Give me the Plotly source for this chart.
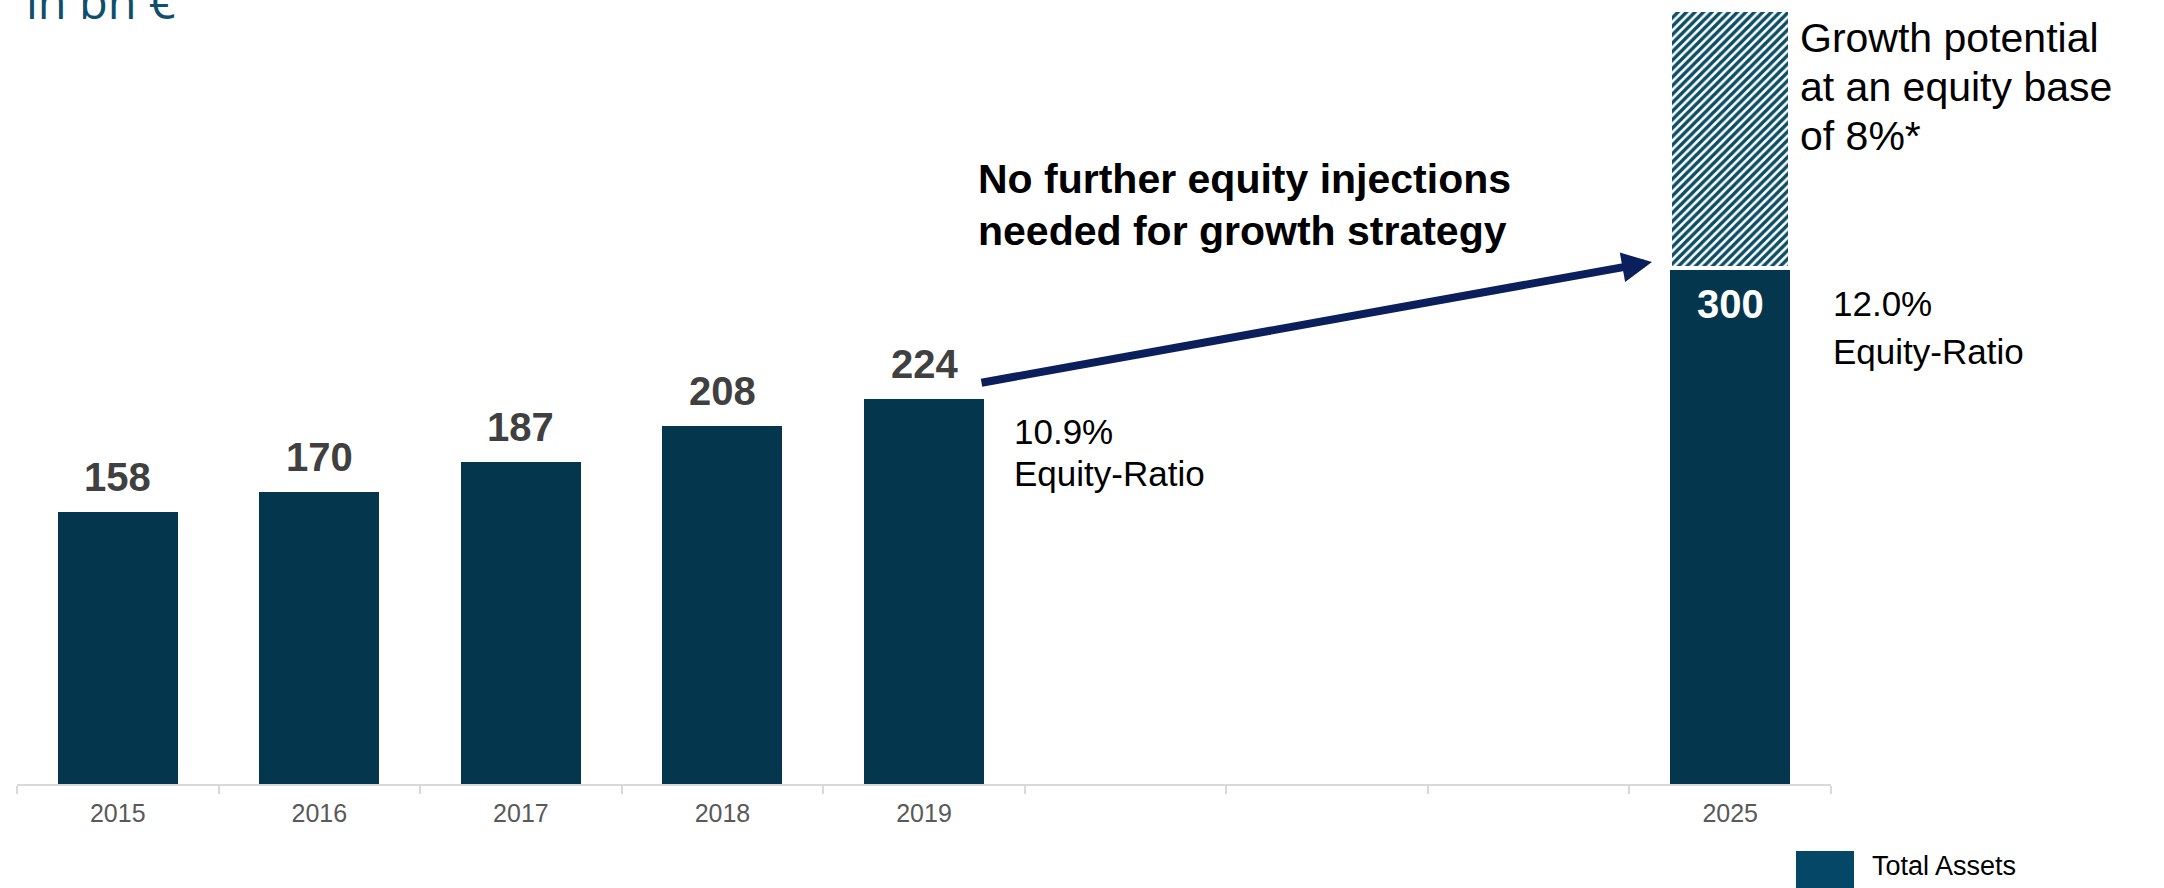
import plotly.graph_objects as go

# ---------------- data ----------------
categories = ["2015", "2016", "2017", "2018", "2019", "gap1", "gap2", "gap3", "2025"]
tick_labels = ["2015", "2016", "2017", "2018", "2019", "", "", "", "2025"]
total_assets = [158, 170, 187, 208, 224, None, None, None, 300]
growth_potential = [None, None, None, None, None, None, None, None, 150]  # 300 -> 450 at 8% equity base
value_labels = ["158", "170", "187", "208", "224", "", "", "", "300"]
equity_ratio_2019 = "10.9%"
equity_ratio_2025 = "12.0%"

# ---------------- styling ----------------
W, H = 2164, 888
ML, MR, MT, MB = 17, 333, 10, 104
PW, PH = W - ML - MR, H - MT - MB
FONT = "Arial, 'Liberation Sans', sans-serif"
BAR = "#04364D"
LEG = "#044767"
HATCH = "#0C4D66"


def px(x):
    return (x - ML) / PW


def py(y):
    return (H - MB - y) / PH


fig = go.Figure()
fig.add_trace(go.Bar(
    x=categories, y=total_assets, name="Total Assets",
    marker=dict(color=BAR, line=dict(width=0)), showlegend=False,
    hoverinfo="x+y",
))
fig.add_trace(go.Bar(
    x=categories, y=growth_potential, name="Growth potential",
    marker=dict(color="white", line=dict(color="white", width=4),
                pattern=dict(shape="/", fgcolor=HATCH, bgcolor="white",
                             size=6, solidity=0.58, fillmode="replace")),
    showlegend=False, hoverinfo="x+y",
))

annotations = []
# value labels (category axis: annotation x uses the category index)
for i, (c, v, lab) in enumerate(zip(categories, total_assets, value_labels)):
    if v is None or not lab:
        continue
    if c == "2025":
        annotations.append(dict(x=i, y=v, xref="x", yref="y", text="<b>%s</b>" % lab,
                                showarrow=False, yanchor="middle", xanchor="center",
                                yshift=-36, font=dict(family=FONT, size=40, color="white")))
    else:
        annotations.append(dict(x=i, y=v, xref="x", yref="y", text="<b>%s</b>" % lab,
                                showarrow=False, yanchor="middle", xanchor="center",
                                yshift=35, font=dict(family=FONT, size=40, color="#404040")))


def txt(text, x, y, size, color="black", bold=False):
    t = "<b>%s</b>" % text if bold else text
    annotations.append(dict(x=px(x), y=py(y), xref="paper", yref="paper", text=t,
                            showarrow=False, xanchor="left", yanchor="middle",
                            font=dict(family=FONT, size=size, color=color)))


txt("No further equity injections", 976, 179, 41, bold=True)
txt("needed for growth strategy", 976, 231, 41, bold=True)
txt(equity_ratio_2019, 1012, 431, 35)
txt("Equity-Ratio", 1012, 473, 35)
txt(equity_ratio_2025, 1831, 303, 35)
txt("Equity-Ratio", 1831, 351, 35)
txt("Growth potential", 1798, 38, 41)
txt("at an equity base", 1798, 87, 41)
txt("of 8%*", 1798, 136, 41)
txt("Total Assets", 1870, 866, 27)
annotations.append(dict(x=px(24), y=py(1), xref="paper", yref="paper", text="in bn €",
                        showarrow=False, xanchor="left", yanchor="middle",
                        font=dict(family="'Open Sans', sans-serif", size=47, color="#0F4F6E")))

# arrow
annotations.append(dict(x=px(1652), y=py(262), xref="paper", yref="paper", text="",
                        showarrow=True, arrowhead=2, arrowsize=0.75, arrowwidth=8,
                        arrowcolor="#0A1F5C", ax=980 - 1652, ay=383 - 262,
                        axref="pixel", ayref="pixel", standoff=0))

shapes = [dict(type="rect", xref="paper", yref="paper",
               x0=px(1796), x1=px(1854), y0=py(892), y1=py(851),
               fillcolor=LEG, line=dict(width=0))]

fig.update_layout(
    width=W, height=H, autosize=False,
    margin=dict(l=ML, r=MR, t=MT, b=MB, pad=0),
    paper_bgcolor="white", plot_bgcolor="white",
    barmode="stack", bargap=0.405,
    showlegend=False,
    annotations=annotations, shapes=shapes,
    xaxis=dict(type="category", categoryorder="array", categoryarray=categories,
               range=[-0.5, len(categories) - 0.5],
               tickmode="array", tickvals=list(range(len(categories))), ticktext=tick_labels,
               tickson="boundaries", ticks="outside", ticklen=8, tickwidth=2,
               tickcolor="#D9D9D9", showline=True, linecolor="#D9D9D9", linewidth=2,
               showgrid=False, zeroline=False, ticklabelstandoff=6,
               tickfont=dict(family=FONT, size=25, color="#595959")),
    yaxis=dict(visible=False, range=[0, 450], showgrid=False, zeroline=False),
)

fig.write_html("out.html")
